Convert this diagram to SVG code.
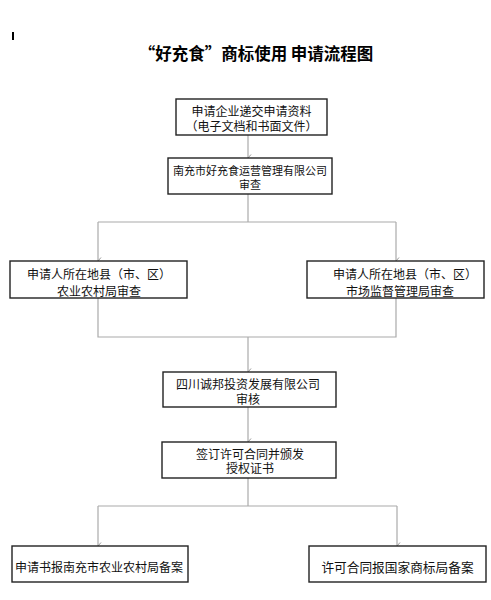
<svg xmlns="http://www.w3.org/2000/svg" width="491" height="600" viewBox="0 0 491 600">
<defs>
<style>
.box{fill:#fff;stroke:#222;stroke-width:1.4}
.t{font-family:"Noto Sans CJK SC","Noto Sans CJK TC",sans-serif;font-size:12px;fill:#111;text-anchor:middle;dominant-baseline:central}
.c{fill:none;stroke:#aaa;stroke-width:1.2}
</style>
<marker id="ah" markerWidth="8" markerHeight="6" refX="4" refY="5.5" orient="auto-start-reverse" markerUnits="userSpaceOnUse" viewBox="0 0 8 6">
<path d="M0.5,2.5 L4,5.5 L7.5,2.5" fill="none" stroke="#999" stroke-width="1"/>
</marker>
</defs>
<rect width="491" height="600" fill="#fff"/>
<rect x="12" y="32" width="2" height="8" fill="#000"/>
<text x="256" y="53" font-family="Noto Sans CJK SC,sans-serif" font-size="16.5" font-weight="bold" text-anchor="middle" dominant-baseline="central" fill="#000">“好充食”商标使用 申请流程图</text>

<g id="connectors">
<path class="c" d="M248,135 V158" marker-end="url(#ah)"/>
<path class="c" d="M248,194 V222"/>
<path class="c" d="M98,222 H396"/>
<path class="c" d="M98,222 V261" marker-end="url(#ah)"/>
<path class="c" d="M396,222 V261" marker-end="url(#ah)"/>
<path class="c" d="M98,298 V337 H396 V298"/>
<path class="c" d="M248,337 V372" marker-end="url(#ah)"/>
<path class="c" d="M248,407 V442" marker-end="url(#ah)"/>
<path class="c" d="M248,478 V506"/>
<path class="c" d="M98,506 H397"/>
<path class="c" d="M98,506 V546" marker-end="url(#ah)"/>
<path class="c" d="M397,506 V546" marker-end="url(#ah)"/>
</g>

<g id="n1">
<rect class="box" x="176" y="99" width="151" height="36"/>
<text class="t" x="251.5" y="110.5" font-size="13">申请企业递交申请资料</text>
<text class="t" x="251.5" y="125">（电子文档和书面文件）</text>
</g>
<g id="n2">
<rect class="box" x="168" y="158" width="164" height="36"/>
<text class="t" x="250" y="170" style="font-size:11px">南充市好充食运营管理有限公司</text>
<text class="t" x="250" y="184" style="font-size:11px">审查</text>
</g>
<g id="n3">
<rect class="box" x="10" y="261" width="177" height="37"/>
<text class="t" x="99" y="273">申请人所在地县（市、区）</text>
<text class="t" x="99" y="290">农业农村局审查</text>
</g>
<g id="n4">
<rect class="box" x="307" y="261" width="177" height="37"/>
<text class="t" x="405" y="273">申请人所在地县（市、区）</text>
<text class="t" x="400" y="290">市场监督管理局审查</text>
</g>
<g id="n5">
<rect class="box" x="163" y="372" width="173" height="35"/>
<text class="t" x="248" y="383">四川诚邦投资发展有限公司</text>
<text class="t" x="248" y="398">审核</text>
</g>
<g id="n6">
<rect class="box" x="162" y="442" width="174" height="36"/>
<text class="t" x="250" y="453">签订许可合同并颁发</text>
<text class="t" x="250" y="467">授权证书</text>
</g>
<g id="n7">
<rect class="box" x="12" y="546" width="176" height="36"/>
<text class="t" x="99" y="566">申请书报南充市农业农村局备案</text>
</g>
<g id="n8">
<rect class="box" x="309" y="546" width="177" height="36"/>
<text class="t" x="397.5" y="566" style="font-size:12.7px">许可合同报国家商标局备案</text>
</g>
</svg>
